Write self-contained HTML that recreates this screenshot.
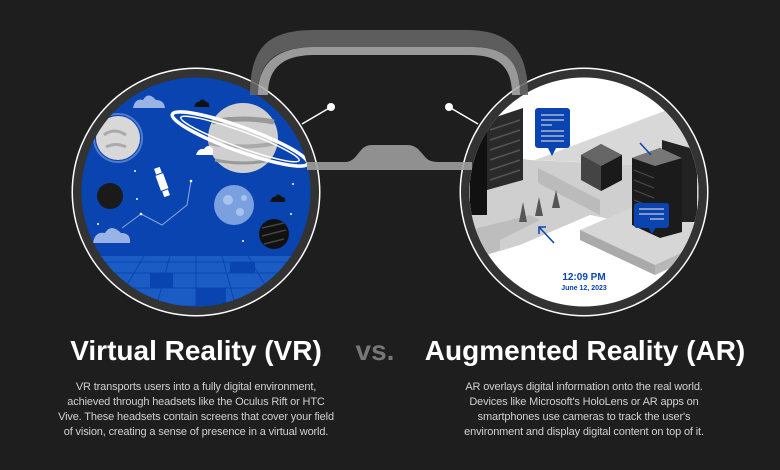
<!DOCTYPE html>
<html><head><style>
html,body{margin:0;padding:0;background:#1e1e1e;width:780px;height:470px;overflow:hidden}
svg{position:absolute;left:0;top:0}
.t{position:absolute;font-family:"Liberation Sans",sans-serif;color:#fff;text-align:center;white-space:nowrap}
</style></head><body>
<svg width="780" height="470" viewBox="0 0 780 470">
<defs>
<clipPath id="cl"><circle cx="196" cy="192" r="114.5"/></clipPath>
<clipPath id="cr"><circle cx="584" cy="192" r="114.5"/></clipPath>
</defs>
<!-- left circle -->
<circle cx="196" cy="192" r="124.5" fill="#fff"/>
<circle cx="196" cy="192" r="123" fill="#333"/>
<g clip-path="url(#cl)">
<rect x="60" y="60" width="280" height="270" fill="#0a44b0"/>
<rect x="60" y="256" width="280" height="70" fill="#1a5cc4"/>
<g stroke="#0a44b0" stroke-width="1" fill="none">
<line x1="60" y1="262" x2="340" y2="262"/><line x1="60" y1="273" x2="340" y2="273"/><line x1="60" y1="288" x2="340" y2="288"/><line x1="60" y1="306" x2="340" y2="306"/>
<line x1="196" y1="256" x2="196" y2="330"/><line x1="170" y1="256" x2="150" y2="330"/><line x1="222" y1="256" x2="242" y2="330"/><line x1="144" y1="256" x2="100" y2="330"/><line x1="248" y1="256" x2="292" y2="330"/>
</g>
<rect x="150" y="273" width="23" height="15" fill="#0a44b0"/><rect x="196" y="288" width="30" height="18" fill="#0a44b0"/><rect x="120" y="306" width="40" height="20" fill="#0a44b0"/><rect x="230" y="262" width="25" height="11" fill="#0a44b0"/>
<circle cx="118" cy="138" r="22" fill="#d8d8d8"/><circle cx="118" cy="138" r="24" fill="none" stroke="#9ab3e6" stroke-width="2" opacity=".5"/><path d="M104 135 q10 -8 22 0 M106 147 q10 -5 20 0" stroke="#aaa" stroke-width="3" fill="none"/>
<circle cx="243" cy="138" r="35" fill="#cfcfcf"/>
<path d="M212 122 Q243 116 274 122" stroke="#999" stroke-width="5" fill="none"/><path d="M209 143 Q243 150 277 143" stroke="#aaa" stroke-width="4" fill="none"/><path d="M215 160 Q243 166 271 160" stroke="#999" stroke-width="3" fill="none"/>
<ellipse cx="240" cy="139" rx="72" ry="12" transform="rotate(20 240 139)" fill="none" stroke="#fff" stroke-width="3.5"/>
<ellipse cx="240" cy="139" rx="63" ry="8" transform="rotate(20 240 139)" fill="none" stroke="#fff" stroke-width="1.5"/>
<circle cx="110" cy="196" r="13" fill="#1a1a1a"/>
<circle cx="234" cy="205" r="20" fill="#7aa0e0"/><circle cx="228" cy="200" r="5" fill="#a9c3ee"/><circle cx="240" cy="212" r="4" fill="#a9c3ee"/><circle cx="244" cy="198" r="3" fill="#a9c3ee"/>
<circle cx="274" cy="234" r="15" fill="#111"/><path d="M262 228 l22 -5 M262 236 l24 -6 M264 244 l20 -5" stroke="#444" stroke-width="1.5"/>
<path d="M133 108 q2 -10 10 -8 q5 -9 13 0 q8 0 9 8 z" fill="#9ab3e6"/>
<path d="M93 243 q2 -12 12 -10 q6 -10 16 0 q10 0 9 10 z" fill="#9ab3e6"/>
<path d="M196 155 q2 -7 8 -6 q4 -6 9 0 l0 6 z" fill="#fff"/>
<path d="M194 107 q2 -6 5 -5 q3 -5 7 0 q4 0 3 5z M270 202 q2 -6 5 -5 q3 -5 7 0 q4 0 3 5z" fill="#111"/>
<g transform="rotate(-20 162 182)"><rect x="158" y="174" width="8" height="16" fill="#fff"/><rect x="159" y="167" width="6" height="6" fill="#fff"/><rect x="159" y="191" width="6" height="6" fill="#fff"/></g>
<polyline points="122,228 141,214 162,225 187,205 191,181 M187,205 214,208 230,198" stroke="#8aa7df" stroke-width="1" fill="none"/>
<g fill="#fff"><circle cx="141" cy="214" r="1.3"/><circle cx="191" cy="181" r="1.3"/><circle cx="293" cy="184" r="1"/><circle cx="98" cy="224" r="1"/><circle cx="243" cy="241" r="1"/><circle cx="291" cy="214" r="1"/><circle cx="137" cy="199" r="1"/><circle cx="135" cy="171" r="1"/></g>
</g>
<!-- right circle -->
<circle cx="584" cy="192" r="124.5" fill="#fff"/>
<circle cx="584" cy="192" r="123" fill="#333"/>
<g clip-path="url(#cr)">
<rect x="460" y="60" width="260" height="270" fill="#fff"/>
<polygon points="535,160 720,90 720,130 640,165" fill="#d8d8d8"/>
<polygon points="460,150 530,160 640,165 720,130 720,200 640,225 590,215 520,245 470,260 460,260" fill="#cfcfcf"/>
<polygon points="538,168 600,200 600,215 538,183" fill="#bbb"/>
<polygon points="470,230 530,215 540,220 500,240 500,250 470,260" fill="#bdbdbd"/>
<polygon points="580,230 650,200 720,230 720,240 655,275 580,240" fill="#d6d6d6"/>
<polygon points="580,230 655,265 655,275 580,240" fill="#aaa"/>
<polygon points="655,265 720,235 720,245 655,275" fill="#b8b8b8"/>
<polygon points="487,120 523,108 523,180 487,190" fill="#2a2a2a"/>
<polygon points="470,125 487,120 487,215 470,215" fill="#111"/>
<g stroke="#555" stroke-width="1.5"><line x1="490" y1="130" x2="520" y2="120"/><line x1="490" y1="140" x2="520" y2="130"/><line x1="490" y1="150" x2="520" y2="140"/><line x1="490" y1="160" x2="520" y2="150"/><line x1="490" y1="170" x2="520" y2="160"/><line x1="490" y1="180" x2="520" y2="170"/></g>
<polygon points="662,140 697,150 697,222 662,222" fill="#222"/>
<polygon points="632,158 660,148 682,158 682,232 660,238 632,225" fill="#1b1b1b"/>
<polygon points="632,158 660,148 682,158 655,166" fill="#777"/>
<g stroke="#444" stroke-width="1.3"><line x1="634" y1="170" x2="654" y2="178"/><line x1="634" y1="180" x2="654" y2="188"/><line x1="634" y1="190" x2="654" y2="198"/><line x1="634" y1="200" x2="654" y2="208"/><line x1="634" y1="210" x2="654" y2="218"/></g>
<polygon points="581,155 601,144 622,155 622,180 601,191 581,180" fill="#444"/>
<polygon points="601,191 622,180 622,155 601,166" fill="#1a1a1a"/>
<polygon points="581,155 601,144 622,155 601,166" fill="#666"/>
<g fill="#555"><polygon points="519,222 523,202 527,222"/><polygon points="535,216 539,197 543,216"/><polygon points="552,208 556,190 560,208"/></g>
<rect x="535" y="108" width="35" height="40" rx="3" fill="#0a44b0"/><polygon points="548,148 556,148 552,156" fill="#0a44b0"/>
<g stroke="#ccd" stroke-width="1.2"><line x1="541" y1="115" x2="564" y2="115"/><line x1="541" y1="120" x2="564" y2="120"/><line x1="541" y1="125" x2="552" y2="125"/><line x1="541" y1="131" x2="564" y2="131"/><line x1="541" y1="136" x2="564" y2="136"/><line x1="541" y1="141" x2="564" y2="141"/></g>
<rect x="634" y="203" width="35" height="25" rx="3" fill="#0a44b0"/><polygon points="648,227 656,227 652,234" fill="#0a44b0"/>
<g stroke="#ccd" stroke-width="1.2"><line x1="639" y1="209" x2="664" y2="209"/><line x1="639" y1="214" x2="664" y2="214"/><line x1="650" y1="219" x2="664" y2="219"/></g>
<line x1="554" y1="243" x2="539" y2="227" stroke="#0a44b0" stroke-width="1.5"/><polyline points="539,234 539,227 546,227" stroke="#0a44b0" stroke-width="1.5" fill="none"/>
<line x1="640" y1="143" x2="651" y2="155" stroke="#0a44b0" stroke-width="1.5"/>
<text x="584" y="280" font-family="Liberation Sans,sans-serif" font-size="10" font-weight="bold" fill="#0a44b0" text-anchor="middle">12:09 PM</text>
<text x="584" y="290" font-family="Liberation Sans,sans-serif" font-size="7" font-weight="bold" fill="#0a44b0" text-anchor="middle">June 12, 2023</text>
</g>
<!-- headset band (over circles, translucent) -->
<g opacity="0.88">
<path d="M250 95 C250 45 270 30 315 30 L465 30 C505 30 528 45 528 95 L520 95 C520 60 505 47 470 47 L315 47 C278 47 258 60 258 95 Z" fill="#666"/>
<path d="M258 95 C258 62 278 47 315 47 L470 47 C505 47 520 60 520 95 L512 95 C512 68 500 55 470 55 L315 55 C285 55 268 66 268 95 Z" fill="#ababab"/>
<path d="M307 162 L345 162 Q352 162 357 155 L362 149 Q366 145 372 145 L408 145 Q414 145 419 150 L426 158 Q430 162 438 162 L472 162 L472 170 L307 170 Z" fill="#a0a0a0"/>
</g>
<!-- connectors -->
<line x1="331" y1="107" x2="302" y2="124" stroke="#fff" stroke-width="1.5"/>
<circle cx="331" cy="107" r="4" fill="#fff"/>
<line x1="449" y1="107" x2="478" y2="124" stroke="#fff" stroke-width="1.5"/>
<circle cx="449" cy="107" r="4" fill="#fff"/>
</svg>
<div class="t" style="left:40px;width:312px;top:335px;font-size:28px;font-weight:bold">Virtual Reality (VR)</div>
<div class="t" style="left:345px;width:60px;top:335px;font-size:28px;font-weight:bold;color:#777">vs.</div>
<div class="t" style="left:410px;width:350px;top:335px;font-size:28px;font-weight:bold">Augmented Reality (AR)</div>
<div class="t" style="left:40px;width:312px;top:380px;font-size:11px;line-height:15px;color:#d0d0d0;letter-spacing:-0.15px">VR transports users into a fully digital environment,<br>achieved through headsets like the Oculus Rift or HTC<br>Vive. These headsets contain screens that cover your field<br>of vision, creating a sense of presence in a virtual world.</div>
<div class="t" style="left:434px;width:300px;top:380px;font-size:11px;line-height:15px;color:#d0d0d0;letter-spacing:-0.15px">AR overlays digital information onto the real world.<br>Devices like Microsoft's HoloLens or AR apps on<br>smartphones use cameras to track the user's<br>environment and display digital content on top of it.</div>
</body></html>
